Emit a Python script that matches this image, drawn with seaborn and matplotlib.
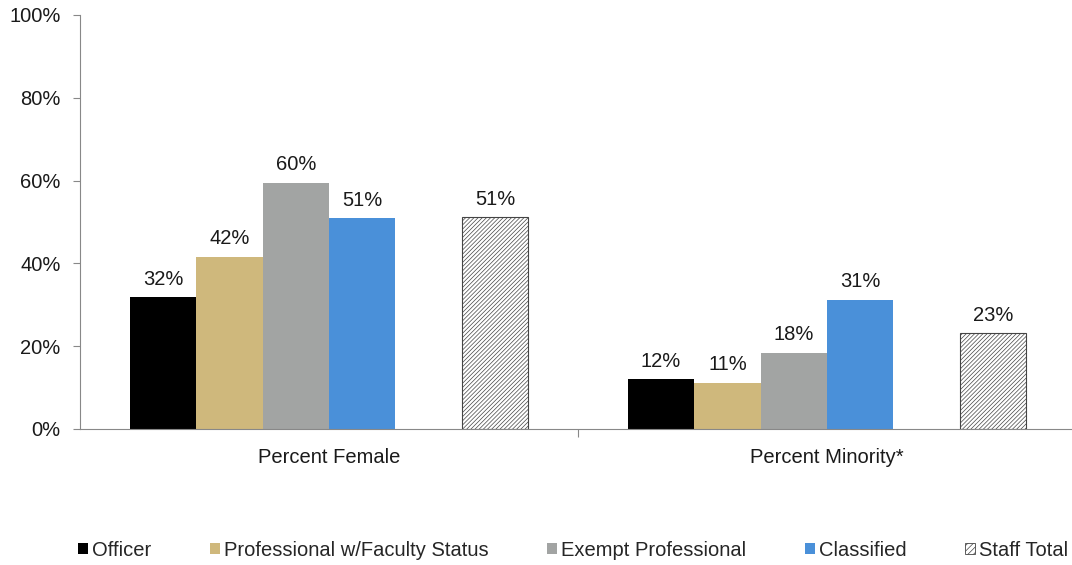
import numpy as np
import pandas as pd
import seaborn as sns
import matplotlib.pyplot as plt
from matplotlib.patches import Patch
from matplotlib.ticker import FixedLocator

# chart data
categories = ['Percent Female', 'Percent Minority*']
groups = ['Officer', 'Professional w/Faculty Status', 'Exempt Professional', 'Classified', 'Staff Total']
officer = [31.9, 12.1]
professional = [41.6, 11.2]
exempt = [59.5, 18.4]
classified = [50.9, 31.2]
staff_total = [51.2, 23.2]
colors = ['#000000', '#CFB87C', '#A2A4A3', '#4A90D9', '#FFFFFF']
yticks = [0, 20, 40, 60, 80, 100]

sns.set_theme(style='white')
plt.rcParams['font.family'] = ['Liberation Sans', 'DejaVu Sans']
plt.rcParams['hatch.linewidth'] = 0.5
FS = 14.5

# empty slot between Classified and Staff Total
gap = 'gap'
hue_order = groups[:4] + [gap] + groups[4:]
series = dict(zip(groups, [officer, professional, exempt, classified, staff_total]))
series[gap] = [0, 0]

rows = []
for g in hue_order:
    for c, v in zip(categories, series[g]):
        rows.append({'category': c, 'group': g, 'value': v})
df = pd.DataFrame(rows)

palette = dict(zip(groups, colors))
palette[gap] = '#FFFFFF'

fig = plt.figure(figsize=(10.72, 5.65), dpi=100)
ax = fig.add_axes([80/1072, 1 - 429/565, 1 - 80/1072, (429 - 15)/565])

sns.barplot(data=df, x='category', y='value', hue='group', hue_order=hue_order,
            palette=palette, width=0.8, linewidth=0, saturation=1, ax=ax,
            legend=False, errorbar=None)

for g, cont in zip(hue_order, ax.containers):
    if g == gap:
        for bar in cont:
            bar.set_visible(False)
        continue
    if g == 'Staff Total':
        for bar in cont:
            bar.set_facecolor('white')
            bar.set_edgecolor('#444444')
            bar.set_hatch('////////')
            bar.set_linewidth(0.8)
    ax.bar_label(cont, labels=[f'{v:.0f}%' for v in series[g]],
                 padding=6, fontsize=FS, color='#1a1a1a')

ax.set_ylim(0, 100)
ax.set_xlim(-0.5, 1.492)
ax.set_yticks(yticks)
ax.set_yticklabels([f'{t}%' for t in yticks])
ax.set_xlabel('')
ax.set_ylabel('')
ax.tick_params(axis='y', which='major', left=True, length=5, width=0.8,
               color='#888888', labelsize=FS, labelcolor='#1a1a1a', pad=9)
ax.tick_params(axis='x', which='major', length=0, labelsize=FS,
               labelcolor='#1a1a1a', pad=14)
ax.xaxis.set_minor_locator(FixedLocator([0.5]))
ax.tick_params(axis='x', which='minor', bottom=True, length=6, width=0.8, color='#888888')

for side in ['top', 'right']:
    ax.spines[side].set_visible(False)
for side in ['left', 'bottom']:
    ax.spines[side].set_color('#888888')
    ax.spines[side].set_linewidth(0.8)

handles = []
for g, c in zip(groups, colors):
    if g == 'Staff Total':
        handles.append(Patch(facecolor='white', edgecolor='#444444', hatch='//////', linewidth=0.6, label=g))
    else:
        handles.append(Patch(facecolor=c, edgecolor='none', label=g))
fig.legend(handles=handles, loc='center left', bbox_to_anchor=(78/1072, 1 - 550/565),
           ncol=5, frameon=False, fontsize=FS, handlelength=0.5, handleheight=0.5,
           handletextpad=0.2, columnspacing=2.9, borderaxespad=0, borderpad=0)

fig.savefig('out.png', dpi=100)
